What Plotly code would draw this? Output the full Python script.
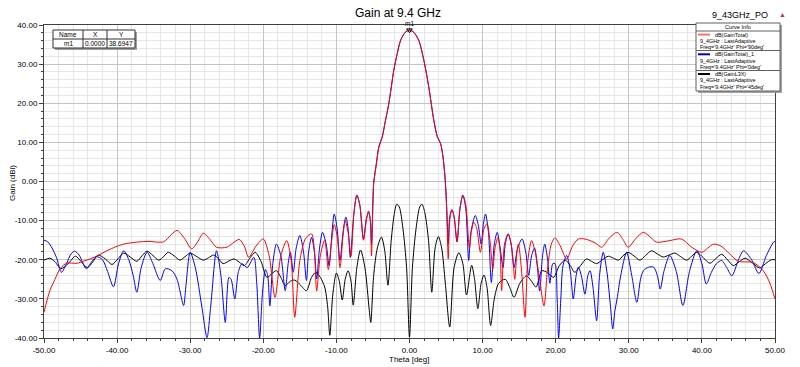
import plotly.graph_objects as go

# ---------------- data ----------------
x_tick_vals = [-50, -40, -30, -20, -10, 0, 10, 20, 30, 40, 50]
x_tick_text = ["-50.00", "-40.00", "-30.00", "-20.00", "-10.00", "0.00", "10.00", "20.00", "30.00", "40.00", "50.00"]
y_tick_vals = [40, 30, 20, 10, 0, -10, -20, -30, -40]
y_tick_text = ["40.00", "30.00", "20.00", "10.00", "0.00", "-10.00", "-20.00", "-30.00", "-40.00"]

red_theta = [-50, -49.2, -48.5, -47.8, -46.9, -45.5, -44.5, -43.7, -42.5, -41.4, -40.2, -39.1, -37.3, -35.5, -34.5,
             -33.6, -32.6, -31.8, -30.8, -29.8, -29.0, -28.2, -27.3, -26.4, -25.0, -24.2, -23.3, -22.6, -22.0, -21.0,
             -20.0, -19.2, -18.4, -17.6, -16.8, -16.2, -15.7, -15.0, -14.2, -13.4, -13.0, -12.7, -12.2, -11.6, -11.1,
             -10.7, -10.3, -9.9, -9.5, -9.1, -8.8, -8.4, -8.0, -7.6, -7.2, -6.8, -6.3, -5.9, -5.6, -5.35, -5.2, -5.0,
             -4.9, -4.5, -4.2, -3.74, -3.3, -2.83, -2.15, -1.7, -1.23, -0.6, 0, 0.6, 1.28, 1.96, 2.64, 3.33, 3.8, 4.25,
             4.6, 4.9, 5.1, 5.3, 5.5, 5.8, 6.1, 6.5, 6.9, 7.3, 7.7, 8.2, 8.45, 8.8, 9.2, 9.7, 10.2, 10.6, 11.0, 11.4,
             11.7, 12.1, 12.4, 12.6, 13.0, 13.5, 14.0, 14.4, 14.7, 14.9, 15.3, 15.8, 16.2, 16.7, 17.2, 17.8, 18.4, 18.9,
             19.4, 19.9, 20.6, 21.5, 22.3, 23.1, 24.0, 24.7, 25.5, 26.3, 27.3, 28.4, 29.2, 29.9, 31.0, 32.0, 33.0, 33.8,
             35.6, 37.2, 38.6, 40.0, 40.8, 41.6, 42.6, 43.8, 45.0, 47.0, 48.4, 49.3, 50]
red_gain = [-33.4, -27.9, -25.0, -22.3, -20.9, -20.9, -20.3, -19.8, -18.8, -17.7, -16.7, -16.0, -15.5, -15.3, -15.5,
            -15.4, -13.6, -12.5, -14.5, -17.2, -15.5, -13.2, -14.8, -16.8, -16.8, -15.8, -14.8, -16.5, -19.4, -16.5,
            -14.7, -19.0, -29.6, -19.0, -15.1, -20.0, -34.7, -20.2, -14.5, -13.4, -18.0, -28.0, -19.0, -15.0, -22.5,
            -16.0, -11.0, -14.0, -22.0, -14.0, -10.0, -13.0, -19.0, -8.0, -3.5, -6.0, -15.0, -10.0, -7.5, -10.0, -19.0, -5.0,
            -0.5, 5.0, 8.8, 11.3, 15.5, 19.9, 28.4, 32.5, 36.0, 38.1, 38.69, 38.1, 36.0, 31.0, 24.1, 15.6, 11.5, 9.7,
            6.0, 0.0, -8.0, -19.8, -10.0, -7.2, -9.0, -15.4, -7.0, -3.5, -6.0, -17.0, -13.0, -10.4, -12.0, -18.1, -12.0, -10.8, -15.0, -22.4,
            -17.0, -14.3, -18.0, -27.9, -16.0, -13.4, -17.0, -25.0, -18.0, -16.0, -22.0, -34.7, -20.0, -15.1, -18.0, -25.0, -31.8, -22.0,
            -16.0, -14.4, -16.4, -19.8, -16.5, -14.7, -14.7, -15.1, -15.8, -16.8, -14.5, -13.0, -14.8, -16.8, -14.5, -13.0, -14.3, -15.5,
            -15.1, -14.7, -16.8, -18.1, -17.0, -16.0, -16.5, -18.5, -20.4, -20.7, -22.8, -26.0, -30.0]

blue_theta = [-50, -49.5, -48.9, -48.3, -47.6, -46.9, -46.3, -45.8, -45.2, -44.2, -43.5, -42.8, -42.0, -41.3, -40.5,
              -39.8, -39.1, -38.4, -37.8, -37.3, -36.7, -35.9, -35.1, -34.1, -33.4, -32.5, -31.8, -30.9, -30.6, -30.0,
              -29.3, -28.4, -27.7, -27.2, -26.4, -25.8, -25.2, -24.7, -24.4, -23.9, -23.4, -22.9, -22.2, -21.3, -20.9,
              -20.5, -20.1, -19.7, -19.4, -19.1, -18.7, -18.2, -17.6, -17.0, -16.6, -16.3, -15.9, -15.5, -15.0, -14.5,
              -14.1, -13.8, -13.4, -13.0, -12.7, -12.3, -11.9, -11.4, -11.0, -10.6, -10.3, -9.9, -9.5, -9.1, -8.7, -8.4,
              -8.1, -7.6, -7.2, -6.8, -6.3, -5.9, -5.6, -5.35, -5.2, -5.0,
              -4.9, -4.5, -4.2, -3.74, -3.3, -2.83, -2.15, -1.7, -1.23, -0.6, 0, 0.6, 1.28, 1.96, 2.64, 3.33, 3.8, 4.25, 4.6,
              4.9, 5.1, 5.3, 5.5, 5.8, 6.1, 6.5, 6.9, 7.3, 7.7, 8.1, 8.4, 9.0, 9.4, 9.8, 10.1, 10.4, 10.8, 11.2, 11.6,
              12.0, 12.4, 12.8, 13.1, 13.5, 13.9, 14.3, 14.8, 15.4, 15.9, 16.3, 16.7, 17.1, 17.5, 17.8, 18.2, 18.5, 18.9,
              19.2, 19.6, 19.9, 20.2, 20.4, 20.7, 21.0, 21.5, 22.0, 22.4, 22.8, 23.1, 23.5, 24.0, 24.4, 24.7, 25.1, 25.6,
              26.0, 26.5, 27.0, 27.5, 27.8, 28.1, 28.4, 28.9, 29.7, 30.4, 31.1, 31.6, 32.0, 32.7, 33.4, 33.9, 34.3, 34.8,
              35.6, 36.5, 37.4, 38.3, 39.3, 40.0, 40.6, 41.3, 42.0, 42.7, 43.4, 44.1, 45.0, 45.7, 46.8, 47.8, 48.8, 49.8, 50]
blue_gain = [-15.0, -15.4, -17.0, -19.4, -23.2, -20.9, -18.5, -17.8, -18.8, -22.3, -20.5, -19.2, -20.0, -23.0, -26.9,
             -21.0, -17.7, -20.0, -24.0, -28.3, -22.0, -18.1, -21.0, -25.3, -22.3, -22.8, -25.0, -31.7, -27.0, -18.1,
             -22.0, -32.1, -39.9, -32.0, -17.7, -24.0, -36.0, -24.5, -25.0, -30.0, -23.0, -21.0, -22.0, -19.4, -26.0,
             -40.0, -28.0, -22.5, -24.0, -31.8, -21.0, -16.0, -19.0, -27.9, -21.0, -18.1, -23.2, -17.0, -13.8, -18.0,
             -25.3, -18.0, -14.3, -18.0, -24.9, -17.0, -13.0, -16.0, -21.5, -13.0, -8.3, -12.0, -20.2, -13.0, -9.1, -12.0,
             -19.4, -8.0, -3.5, -6.0, -14.7, -9.5, -7.9, -10.0, -16.0, -5.0,
             -0.5, 5.0, 8.8, 11.3, 15.5, 19.9, 28.4, 32.5, 36.0, 38.1, 38.69, 38.1, 36.0, 31.0, 24.1, 15.6, 11.5, 9.7, 6.0,
             0.0, -7.0, -15.9, -9.0, -7.2, -9.0, -15.4, -7.0, -3.5, -7.0, -20.2, -13.0, -8.7, -11.0, -16.0, -11.0, -8.3, -13.0, -25.8, -16.0,
             -13.0, -17.0, -22.0, -16.0, -13.4, -16.0, -22.0, -17.0, -14.7, -18.0, -24.0, -19.0, -17.0, -22.0, -28.0, -19.0, -16.0, -20.0,
             -26.0, -21.0, -21.0, -30.0, -40.0, -30.0, -21.5, -18.9, -23.0, -30.0, -24.0, -21.9, -24.0, -28.8, -24.0, -22.8, -27.0, -35.6,
             -24.0, -18.1, -23.0, -32.0, -37.7, -33.0, -30.0, -24.0, -18.1, -24.0, -30.9, -25.0, -22.8, -21.9, -21.9, -24.0, -27.5, -23.0,
             -18.9, -23.0, -31.7, -23.0, -17.7, -21.0, -26.2, -23.2, -21.0, -20.2, -22.0, -24.1, -20.0, -17.7, -20.0, -23.5, -19.0, -15.5, -15.3]

black_theta = [-50, -49.2, -48.5, -47.7, -46.7, -45.7, -44.9, -44.1, -43.3, -42.6, -41.6, -40.7, -39.9, -39.1, -38.2,
               -37.3, -36.6, -35.9, -35.1, -34.3, -33.6, -33.0, -32.2, -31.4, -30.7, -30.0, -29.1, -28.2, -27.5, -26.8,
               -26.1, -25.5, -24.7, -24.0, -23.3, -22.6, -21.8, -21.1, -20.3, -19.5, -18.8, -18.2, -17.6, -17.0, -16.3,
               -15.7, -14.9, -14.1, -13.4, -12.8, -12.2, -11.6, -11.2, -10.9, -10.5, -10.0, -9.6, -9.2, -8.8, -8.4, -8.0,
               -7.7, -7.2, -6.7, -6.1, -5.5, -5.3, -4.9, -4.4, -3.85, -3.4, -2.95, -2.5, -2.1, -1.75, -1.4, -0.9, -0.4, 0,
               0.4, 0.9, 1.4, 1.7, 2.1, 2.6, 3.05, 3.5, 3.95, 4.4, 4.9, 5.5, 6.1, 6.75, 7.3, 7.8, 8.5, 8.9, 9.35, 9.8,
               10.2, 10.6, 11.1, 11.6, 12.2, 13.1, 13.7, 14.3, 15.1, 16.0, 16.7, 17.3, 17.7, 18.1, 18.9, 19.7, 20.5, 21.3,
               22.0, 22.6, 23.4, 24.2, 24.9, 25.6, 26.4, 27.2, 27.9, 28.6, 29.2, 29.9, 30.7, 31.5, 32.3, 33.1, 33.9, 34.7,
               35.5, 36.3, 37.1, 37.9, 38.6, 39.3, 40.2, 41.1, 41.9, 42.7, 43.5, 44.3, 45.1, 45.9, 46.9, 47.9, 48.7, 49.5, 50]
black_gain = [-20.1, -19.6, -20.5, -22.3, -21.0, -19.1, -20.5, -22.0, -20.5, -18.8, -19.8, -21.2, -19.8, -18.3, -19.3,
              -20.4, -19.0, -17.8, -18.9, -20.1, -19.1, -18.1, -19.0, -20.1, -19.2, -18.3, -19.2, -20.1, -19.5, -18.8,
              -19.8, -21.0, -20.3, -19.8, -20.6, -21.5, -19.5, -18.1, -20.5, -24.5, -23.5, -22.8, -24.5, -26.6, -25.5,
              -25.2, -26.5, -27.9, -24.5, -23.2, -24.5, -27.0, -32.0, -39.3, -29.0, -23.4, -25.5, -30.3, -25.0, -22.8, -25.5,
              -31.6, -22.0, -17.5, -22.0, -33.0, -36.0, -24.0, -17.0, -14.2, -17.5, -26.5, -15.0, -8.5, -5.8, -6.5, -12.0, -22.0, -39.8,
              -22.0, -12.0, -6.5, -5.8, -8.0, -15.0, -28.3, -17.0, -14.1, -17.0, -26.0, -37.2, -22.0, -18.2, -21.0, -29.0, -21.4, -25.0, -32.5, -26.0,
              -23.9, -27.0, -36.8, -30.0, -26.0, -25.0, -27.0, -29.6, -26.0, -24.1, -25.5, -27.0, -25.0, -22.8, -23.3, -24.5, -21.5, -20.1,
              -21.5, -23.2, -21.5, -19.8, -20.4, -21.0, -20.0, -19.1, -19.6, -20.1, -19.0, -18.1, -19.0, -20.1, -18.9, -17.7, -18.5, -19.3,
              -18.8, -18.3, -19.2, -20.1, -19.1, -18.1, -19.5, -20.9, -19.7, -18.6, -20.0, -21.5, -20.5, -19.6, -20.8, -22.1, -21.0, -20.0, -20.0]

marker_theta = [0.0]
marker_gain = [38.6947]

legend_names = ["dB(GainTotal)", "dB(GainTotal)_1", "dB(GainL3X)"]
legend_setup = ["9_4GHz : LastAdaptive", "9_4GHz : LastAdaptive", "9_4GHz : LastAdaptive"]
legend_freq = ["Freq='9.4GHz' Phi='90deg'", "Freq='9.4GHz' Phi='0deg'", "Freq='9.4GHz' Phi='45deg'"]
legend_colors = ["#ff6a6a", "#0000cc", "#000000"]

# ---------------- figure ----------------
L, R, T, B = 44, 775, 25, 338


def px(x):
    return (x - L) / (R - L)


def py(y):
    return (B - y) / (B - T)


FONT = "Liberation Sans, Arial, sans-serif"
fig = go.Figure()

fig.add_trace(go.Scatter(x=black_theta, y=black_gain, mode="lines",
                         line=dict(color="#000000", width=1, shape="spline", smoothing=0.8), name=legend_names[2]))
fig.add_trace(go.Scatter(x=blue_theta, y=blue_gain, mode="lines",
                         line=dict(color="#0000ff", width=1, shape="spline", smoothing=0.8), name=legend_names[1]))
fig.add_trace(go.Scatter(x=red_theta, y=red_gain, mode="lines",
                         line=dict(color="#ff0000", width=1, shape="spline", smoothing=0.8), name=legend_names[0]))
fig.add_trace(go.Scatter(x=marker_theta, y=marker_gain, mode="markers",
                         marker=dict(symbol="triangle-down-open", size=5, color="black", line=dict(width=1)),
                         cliponaxis=False, name="m1"))

axis_common = dict(showline=True, linecolor="#404040", linewidth=1, mirror=True, zeroline=False,
                   showgrid=True, gridcolor="#c4c4c4", gridwidth=1,
                   ticks="outside", ticklen=4, tickcolor="#404040",
                   tickfont=dict(family=FONT, size=8, color="black"),
                   tickmode="array", automargin=False)

fig.update_layout(
    width=800, height=367,
    margin=dict(l=L, r=800 - R, t=T, b=367 - B, pad=0, autoexpand=False),
    paper_bgcolor="white", plot_bgcolor="white",
    showlegend=False,
    title=dict(text="Gain at 9.4 GHz", x=398 / 800, xanchor="center", y=1 - 13 / 367, yanchor="middle",
               font=dict(family=FONT, size=12, color="black"), automargin=False),
    xaxis=dict(range=[-50, 50], tickvals=x_tick_vals, ticktext=x_tick_text,
               minor=dict(dtick=2, tick0=0, showgrid=True, gridcolor="#e6e6e6", ticks="outside", ticklen=2,
                          tickcolor="#404040"),
               **axis_common),
    yaxis=dict(range=[-40, 40], tickvals=y_tick_vals, ticktext=y_tick_text,
               minor=dict(dtick=2, tick0=0, showgrid=True, gridcolor="#e6e6e6", ticks="outside", ticklen=2,
                          tickcolor="#404040"),
               **axis_common),
)

shapes = []
annotations = []

# axis titles
annotations.append(dict(xref="paper", yref="paper", x=px(409), y=py(359.5), text="Theta [deg]", showarrow=False,
                        xanchor="center", yanchor="middle", font=dict(family=FONT, size=8, color="black")))
annotations.append(dict(xref="paper", yref="paper", x=px(12), y=py(183), text="Gain (dBi)", showarrow=False,
                        textangle=-90, xanchor="center", yanchor="middle",
                        font=dict(family=FONT, size=8, color="black")))

# marker label
annotations.append(dict(xref="x", yref="paper", x=marker_theta[0], y=py(23.5), text="m1", showarrow=False,
                        xanchor="center", yanchor="middle", font=dict(family=FONT, size=6.5, color="black")))

# top-right label
annotations.append(dict(xref="paper", yref="paper", x=px(770), y=py(15), xanchor="right", yanchor="middle",
                        text="9_43GHz_PO", showarrow=False, font=dict(family=FONT, size=9, color="black")))
annotations.append(dict(xref="paper", yref="paper", x=px(782), y=py(14), xanchor="center", yanchor="middle",
                        text="▲", showarrow=False, font=dict(family=FONT, size=7, color="#cc3333")))

# marker table
tx0, tx1, ty0, ty1 = 53, 135, 30, 48
shapes.append(dict(type="rect", xref="paper", yref="paper", x0=px(tx0 + 2), x1=px(tx1 + 2), y0=py(ty1 + 2), y1=py(ty0 + 2),
                   fillcolor="#a0a0a0", line=dict(width=0), layer="above"))
shapes.append(dict(type="rect", xref="paper", yref="paper", x0=px(tx0), x1=px(tx1), y0=py(ty1), y1=py(ty0),
                   fillcolor="white", line=dict(color="#303030", width=1), layer="above"))
shapes.append(dict(type="line", xref="paper", yref="paper", x0=px(tx0), x1=px(tx1), y0=py(39), y1=py(39),
                   line=dict(color="#303030", width=1), layer="above"))
for cx in (83, 107):
    shapes.append(dict(type="line", xref="paper", yref="paper", x0=px(cx), x1=px(cx), y0=py(ty0), y1=py(ty1),
                       line=dict(color="#303030", width=1), layer="above"))
table_header = ["Name", "X", "Y"]
table_row = ["m1", "%.4f" % marker_theta[0], "%.4f" % marker_gain[0]]
for cx, h, v in zip((68, 95, 121), table_header, table_row):
    annotations.append(dict(xref="paper", yref="paper", x=px(cx), y=py(34.5), text=h, showarrow=False,
                            xanchor="center", yanchor="middle", font=dict(family=FONT, size=6.5, color="black")))
    annotations.append(dict(xref="paper", yref="paper", x=px(cx), y=py(43.5), text=v, showarrow=False,
                            xanchor="center", yanchor="middle", font=dict(family=FONT, size=6.5, color="black")))

# curve info box
bx0, bx1, by0, by1 = 696, 780, 23, 91
shapes.append(dict(type="rect", xref="paper", yref="paper", x0=px(bx0 + 2), x1=px(bx1 + 2), y0=py(by1 + 2), y1=py(by0 + 2),
                   fillcolor="#a0a0a0", line=dict(width=0), layer="above"))
shapes.append(dict(type="rect", xref="paper", yref="paper", x0=px(bx0), x1=px(bx1), y0=py(by1), y1=py(by0),
                   fillcolor="white", line=dict(color="#606060", width=1), layer="above"))
for sy in (31, 50.5, 70.5):
    shapes.append(dict(type="line", xref="paper", yref="paper", x0=px(bx0), x1=px(bx1), y0=py(sy), y1=py(sy),
                       line=dict(color="#606060", width=1), layer="above"))
annotations.append(dict(xref="paper", yref="paper", x=px((bx0 + bx1) / 2), y=py(27), text="Curve Info",
                        showarrow=False, xanchor="center", yanchor="middle",
                        font=dict(family=FONT, size=5.6, color="black")))
for i, (nm, st, fq, col) in enumerate(zip(legend_names, legend_setup, legend_freq, legend_colors)):
    ytop = 31 + i * 19.7
    shapes.append(dict(type="line", xref="paper", yref="paper", x0=px(698), x1=px(710), y0=py(ytop + 3.6),
                       y1=py(ytop + 3.6), line=dict(color=col, width=2), layer="above"))
    for j, (tx, xx) in enumerate(((nm, 713), (st, 698), (fq, 698))):
        annotations.append(dict(xref="paper", yref="paper", x=px(xx), y=py(ytop + 3.6 + 6.3 * j), text=tx,
                                showarrow=False, xanchor="left", yanchor="middle",
                                font=dict(family=FONT, size=5.4, color="black")))

fig.update_layout(shapes=shapes, annotations=annotations)
fig.write_html("out.html")
